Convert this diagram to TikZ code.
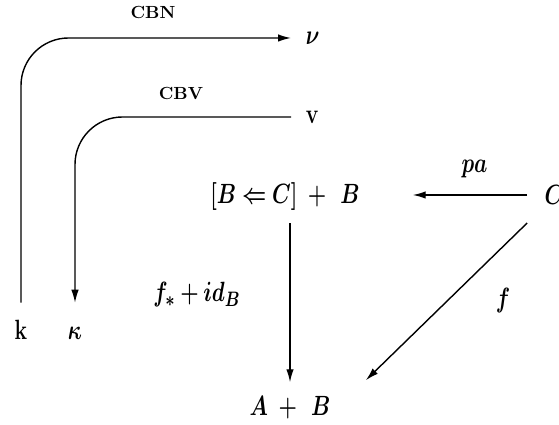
\documentclass[tikz,border=0pt]{standalone}
\usepackage{amsmath,amssymb,bm}
\usetikzlibrary{arrows.meta,positioning}

\begin{document}
\begin{tikzpicture}[
  obj/.style={font=\fontsize{12.5}{15}\selectfont,inner sep=1.5pt,yscale=1.32},
  lbl/.style={font=\bfseries},
  arr/.style={-{Latex[length=2.6mm,width=1.5mm]},thick},
  curve/.style={thick,rounded corners=0.95cm}
]
  \useasboundingbox (0,0) rectangle (11.18,8.5);

  % CBN / CBV curves
  \node[obj,anchor=base,text height=0.3cm,text depth=0pt] (k) at (0.42,1.7) {$\mathbf{k}$};
  \node[obj,anchor=base,text height=0.3cm,text depth=0pt] (kappa) at (1.5,1.7) {$\bm{\kappa}$};
  \node[obj,anchor=west] (nu) at (6.06,7.74) {$\bm{\nu}$};
  \node[obj,anchor=west] (v) at (6.06,6.16) {$\mathbf{v}$};
  \node[lbl] (cbn) at (3.06,8.26) {CBN};
  \node[lbl] (cbv) at (3.62,6.64) {CBV};

  \draw[curve,arr,shorten <=0.27cm,shorten >=0.24cm] (k.north) |- (nu.west);
  \draw[curve,arr,shorten <=0.24cm,shorten >=0.27cm] (v.west) -| (kappa.north);

  % Main square
  \node[obj] (sum) at (5.7,4.56) {$\bm{[B \Leftarrow C]}\;\bm{+}\;\,\bm{B}$};
  \node[obj] (C) at (11.08,4.6) {$\bm{C}$};
  \node[obj] (AB) at (5.8,0.35) {$\bm{A}\;\bm{+}\;\,\bm{B}$};
  \node[obj] (pa) at (9.49,5.12) {$\bm{pa}$};
  \node[obj] (fid) at (3.94,2.6) {$\bm{f}_{\bm{*}} \bm{+} \bm{id}_{\bm{B}}$};
  \node[obj] (f) at (10.06,2.48) {$\bm{f}$};

  \draw[arr,shorten <=0.29cm,shorten >=1.0cm] (C.west) -- (C.west -| sum.east);
  \draw[arr,shorten <=0.17cm,shorten >=0.2cm] (AB.north |- sum.south) -- (AB.north);
  \draw[arr] ([xshift=-0.29cm,yshift=-0.29cm]C.south west) -- ([xshift=0.65cm,yshift=0.24cm]AB.north east);
\end{tikzpicture}
\end{document}
